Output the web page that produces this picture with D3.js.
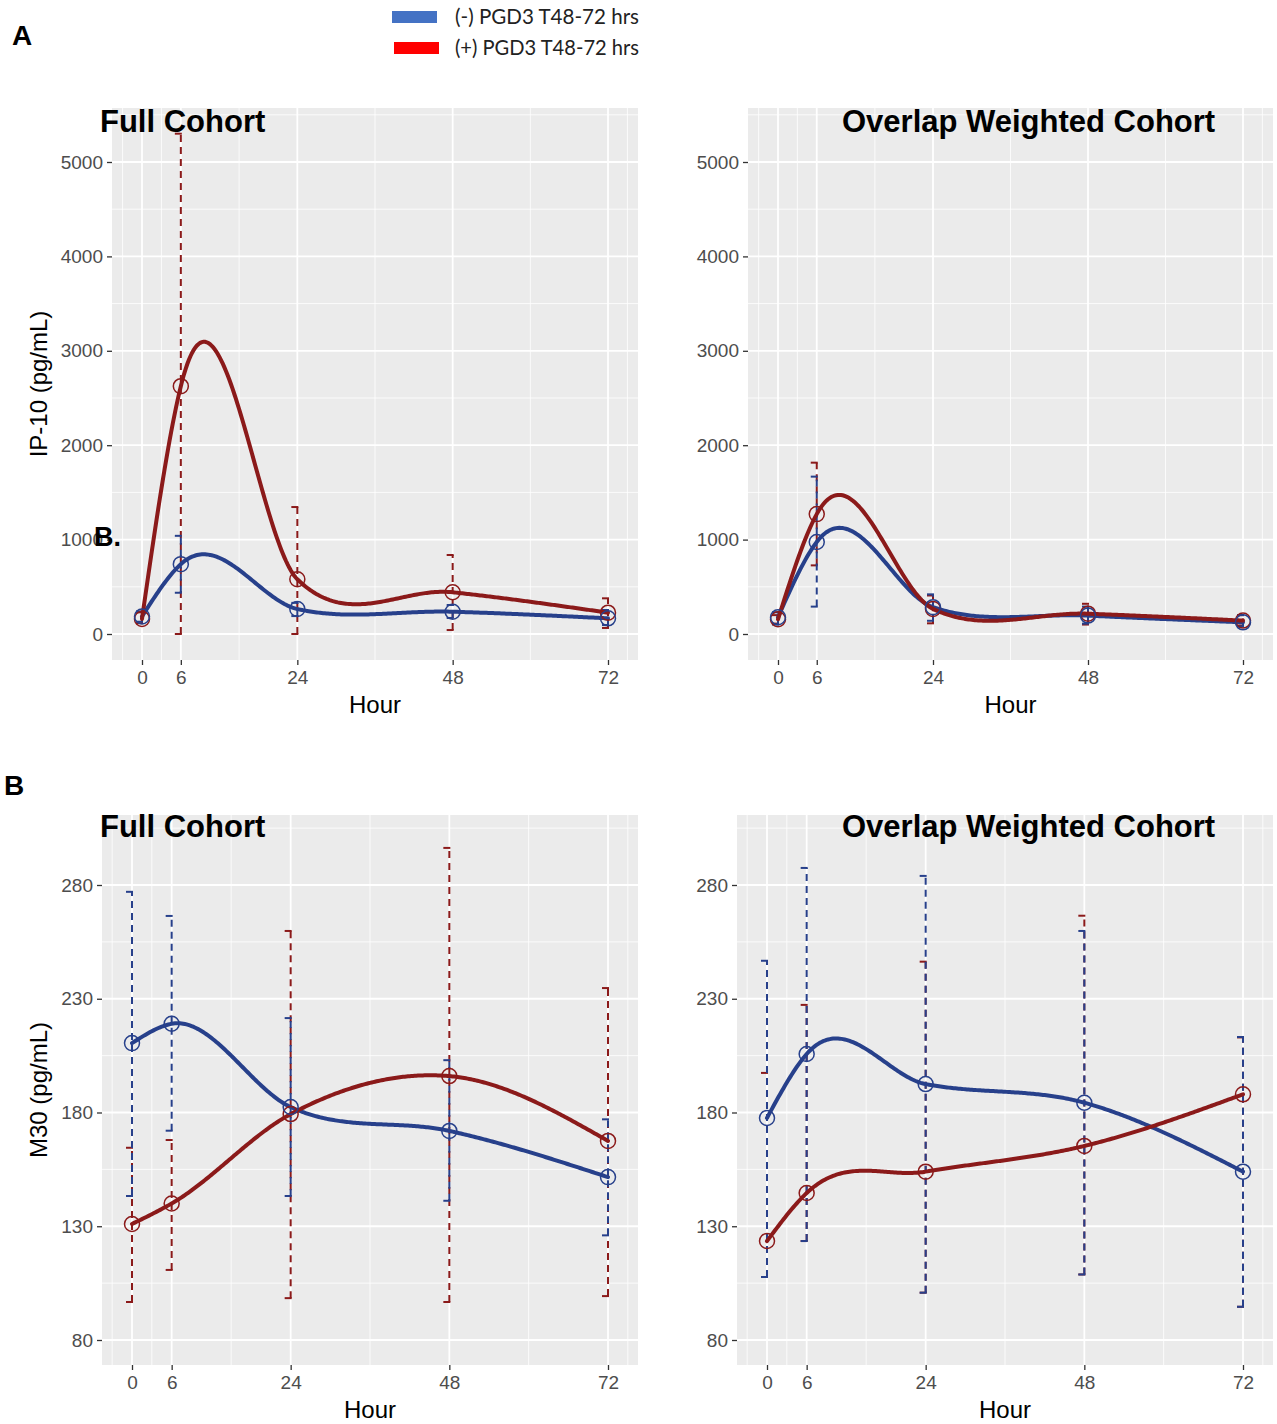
<!DOCTYPE html>
<html>
<head>
<meta charset="utf-8">
<script src="https://cdn.jsdelivr.net/npm/d3@7"></script>
<style>
  body { margin: 0; background: #fff; }
  svg { display: block; }
  text { font-family: "Liberation Sans", Arial, sans-serif; }
</style>
</head>
<body>
<svg id="chart" width="1277" height="1424"></svg>
<script>
// hours sampled
const hours = [0, 6, 24, 48, 72];
const hourMinor = [-3, 3, 15, 36, 60, 75];

const ip10Ticks = [0, 1000, 2000, 3000, 4000, 5000];
const ip10Minor = [-500, 500, 1500, 2500, 3500, 4500, 5500];
const m30Ticks = [80, 130, 180, 230, 280];
const m30Minor = [55, 105, 155, 205, 255, 305];

// IP-10, full cohort
const ip10FullNeg   = [185, 740, 265, 236, 166];
const ip10FullNegLo = [130, 437, 190, 170, 95];
const ip10FullNegHi = [240, 1040, 330, 307, 254];
const ip10FullPos   = [160, 2625, 580, 442, 226];
const ip10FullPosLo = [115, 0, 0, 42, 64];
const ip10FullPosHi = [230, 5300, 1345, 837, 378];

// IP-10, overlap weighted
const ip10OwNeg   = [177, 975, 284, 195, 124];
const ip10OwNegLo = [100, 290, 140, 110, 80];
const ip10OwNegHi = [230, 1667, 420, 290, 200];
const ip10OwPos   = [156, 1270, 266, 215, 142];
const ip10OwPosLo = [110, 727, 113, 100, 90];
const ip10OwPosHi = [200, 1815, 408, 320, 200];

// M30, full cohort
const m30FullNeg   = [210.5, 219, 182.4, 171.9, 151.6];
const m30FullNegLo = [143.3, 172, 143.3, 141.2, 126];
const m30FullNegHi = [277, 266.4, 221.5, 203, 177];
const m30FullPos   = [131, 140, 179.3, 196, 167.5];
const m30FullPosLo = [96.7, 110.8, 98.4, 96.7, 99.3];
const m30FullPosHi = [164.5, 167.9, 259.8, 296.3, 234.7];

// M30, overlap weighted
const m30OwNeg   = [177.6, 205.7, 192.5, 184.3, 154];
const m30OwNegLo = [107.7, 123.5, 100.8, 108.8, 94.6];
const m30OwNegHi = [246.7, 287.5, 284, 259.8, 213.2];
const m30OwPos   = [123.5, 144.6, 154, 165.3, 188];
const m30OwPosLo = [107.7, 123.5, 100.8, 108.8, 94.6];
const m30OwPosHi = [197.4, 227.3, 246.3, 266.5, 213];

const legendLabels = ["(-) PGD3 T48-72 hrs", "(+) PGD3 T48-72 hrs"];

const BLUE = "#27408b", RED = "#8b1a1a";

const svg = d3.select("#chart");

// cubic hermite through the points, slopes from 3-point parabolas (no monotone clamp)
function hermite(xs, ys) {
  const n = xs.length, h = [], s = [], m = [];
  for (let i = 0; i < n - 1; i++) { h[i] = xs[i + 1] - xs[i]; s[i] = (ys[i + 1] - ys[i]) / h[i]; }
  for (let i = 1; i < n - 1; i++) m[i] = (h[i] * s[i - 1] + h[i - 1] * s[i]) / (h[i - 1] + h[i]);
  m[0] = (3 * s[0] - m[1]) / 2;
  m[n - 1] = (3 * s[n - 2] - m[n - 2]) / 2;
  return x => {
    const i = Math.min(n - 2, Math.max(0, d3.bisectRight(xs, x) - 1));
    const t = (x - xs[i]) / h[i], t2 = t * t, t3 = t2 * t;
    return (2 * t3 - 3 * t2 + 1) * ys[i] + (t3 - 2 * t2 + t) * h[i] * m[i]
      + (-2 * t3 + 3 * t2) * ys[i + 1] + (t3 - t2) * h[i] * m[i + 1];
  };
}

const panels = [
  { box: [112, 638, 108, 660], xr: [142, 608], yd: [0, 5000], yr: [634, 162],
    ticks: ip10Ticks, minor: ip10Minor, title: "Full Cohort", titleX: 100, titleY: 132,
    yTitle: "IP-10 (pg/mL)",
    neg: [ip10FullNeg, ip10FullNegLo, ip10FullNegHi], pos: [ip10FullPos, ip10FullPosLo, ip10FullPosHi] },
  { box: [748, 1273, 108, 660], xr: [778, 1243], yd: [0, 5000], yr: [634, 162],
    ticks: ip10Ticks, minor: ip10Minor, title: "Overlap Weighted Cohort", titleX: 842, titleY: 132,
    neg: [ip10OwNeg, ip10OwNegLo, ip10OwNegHi], pos: [ip10OwPos, ip10OwPosLo, ip10OwPosHi] },
  { box: [102, 638, 815, 1365], xr: [132, 608], yd: [80, 280], yr: [1340, 885],
    ticks: m30Ticks, minor: m30Minor, title: "Full Cohort", titleX: 100, titleY: 837,
    yTitle: "M30 (pg/mL)",
    neg: [m30FullNeg, m30FullNegLo, m30FullNegHi], pos: [m30FullPos, m30FullPosLo, m30FullPosHi] },
  { box: [737, 1273, 815, 1365], xr: [767, 1243], yd: [80, 280], yr: [1340, 885],
    ticks: m30Ticks, minor: m30Minor, title: "Overlap Weighted Cohort", titleX: 842, titleY: 837,
    neg: [m30OwNeg, m30OwNegLo, m30OwNegHi], pos: [m30OwPos, m30OwPosLo, m30OwPosHi] }
];

panels.forEach((p, pi) => {
  const [x0, x1, y0, y1] = p.box;
  const x = d3.scaleLinear().domain([0, 72]).range(p.xr);
  const y = d3.scaleLinear().domain(p.yd).range(p.yr);
  const g = svg.append("g");
  const clipId = "clip" + pi;
  g.append("clipPath").attr("id", clipId).append("rect")
    .attr("x", x0).attr("y", y0).attr("width", x1 - x0).attr("height", y1 - y0);

  g.append("rect").attr("x", x0).attr("y", y0).attr("width", x1 - x0).attr("height", y1 - y0)
    .attr("fill", "#ebebeb");

  const grid = g.append("g").attr("clip-path", `url(#${clipId})`);
  grid.selectAll(".vmin").data(hourMinor.filter(d => x(d) > x0 && x(d) < x1)).join("line")
    .attr("x1", d => x(d)).attr("x2", d => x(d)).attr("y1", y0).attr("y2", y1)
    .attr("stroke", "#fff").attr("stroke-width", 0.8);
  grid.selectAll(".hmin").data(p.minor.filter(d => y(d) > y0 && y(d) < y1)).join("line")
    .attr("y1", d => y(d)).attr("y2", d => y(d)).attr("x1", x0).attr("x2", x1)
    .attr("stroke", "#fff").attr("stroke-width", 0.8);
  grid.selectAll(".vmaj").data(hours).join("line")
    .attr("x1", d => x(d)).attr("x2", d => x(d)).attr("y1", y0).attr("y2", y1)
    .attr("stroke", "#fff").attr("stroke-width", 1.8);
  grid.selectAll(".hmaj").data(p.ticks).join("line")
    .attr("y1", d => y(d)).attr("y2", d => y(d)).attr("x1", x0).attr("x2", x1)
    .attr("stroke", "#fff").attr("stroke-width", 1.8);

  // axes
  const yAxis = g.append("g").attr("transform", `translate(${x0},0)`)
    .call(d3.axisLeft(y).tickValues(p.ticks).tickFormat(d3.format("d")).tickSize(5).tickPadding(4));
  const xAxis = g.append("g").attr("transform", `translate(0,${y1})`)
    .call(d3.axisBottom(x).tickValues(hours).tickFormat(d3.format("d")).tickSize(5).tickPadding(6));
  [yAxis, xAxis].forEach(a => {
    a.select(".domain").remove();
    a.selectAll(".tick line").attr("stroke", "#333").attr("stroke-width", 1.3);
    a.selectAll(".tick text").attr("fill", "#4d4d4d").style("font-size", "19px");
  });

  g.append("text").attr("x", (x0 + x1) / 2).attr("y", y1 + 53)
    .attr("text-anchor", "middle").style("font-size", "24px").attr("fill", "#000").text("Hour");
  if (p.yTitle) {
    g.append("text").attr("transform", `translate(47,${(y0 + y1) / 2}) rotate(-90)`)
      .attr("text-anchor", "middle").style("font-size", "24px").attr("fill", "#000").text(p.yTitle);
  }
  g.append("text").attr("x", p.titleX).attr("y", p.titleY)
    .style("font-size", "31px").style("font-weight", "bold").attr("fill", "#000").text(p.title);

  const plot = g.append("g").attr("clip-path", `url(#${clipId})`);
  const series = [{ c: RED, d: p.pos }, { c: BLUE, d: p.neg }];

  // error bars: dashed stem, caps to the left
  series.forEach(s => {
    const [mid, lo, hi] = s.d;
    const eb = plot.append("g");
    eb.selectAll("line.stem").data(hours).join("line")
      .attr("x1", d => x(d)).attr("x2", d => x(d))
      .attr("y1", (d, i) => y(lo[i])).attr("y2", (d, i) => y(hi[i]))
      .attr("stroke", s.c).attr("stroke-width", 2).attr("stroke-dasharray", "7,5");
    [lo, hi].forEach(arr => {
      eb.selectAll(null).data(hours).join("line")
        .attr("x1", d => x(d) - 6).attr("x2", d => x(d) + 1)
        .attr("y1", (d, i) => y(arr[i])).attr("y2", (d, i) => y(arr[i]))
        .attr("stroke", s.c).attr("stroke-width", 2);
    });
  });

  // smooth lines through the points
  const samples = d3.range(0, 72.001, 0.25);
  [{ c: BLUE, d: p.neg }, { c: RED, d: p.pos }].forEach(s => {
    const f = hermite(hours, s.d[0]);
    plot.append("path")
      .datum(samples)
      .attr("fill", "none").attr("stroke", s.c).attr("stroke-width", 4)
      .attr("stroke-linecap", "round")
      .attr("d", d3.line().x(d => x(d)).y(d => y(f(d))));
  });

  // open circles
  series.forEach(s => {
    plot.selectAll(null).data(hours).join("circle")
      .attr("cx", d => x(d)).attr("cy", (d, i) => y(s.d[0][i])).attr("r", 7.5)
      .attr("fill", "none").attr("stroke", s.c).attr("stroke-width", 1.5);
  });
});

// panel letters
svg.append("text").attr("x", 12).attr("y", 45).style("font-size", "28px").style("font-weight", "bold").text("A");
svg.append("text").attr("x", 4).attr("y", 795).style("font-size", "28px").style("font-weight", "bold").text("B");
svg.append("text").attr("x", 94).attr("y", 546).style("font-size", "27px").style("font-weight", "bold").text("B.");

// legend
const legendColors = ["#4472c4", "#ff0000"];
const lg = svg.append("g");
legendLabels.forEach((lab, i) => {
  lg.append("rect").attr("x", 392 + i * 2).attr("y", 11 + i * 31).attr("width", 45).attr("height", 12)
    .attr("fill", legendColors[i]);
  lg.append("text").attr("x", 455).attr("y", 24 + i * 31)
    .style("font-family", "Lato, 'Open Sans', sans-serif").style("font-size", "21px")
    .attr("textLength", 184).attr("lengthAdjust", "spacingAndGlyphs")
    .attr("fill", "#222").text(lab);
});
</script>
</body>
</html>
